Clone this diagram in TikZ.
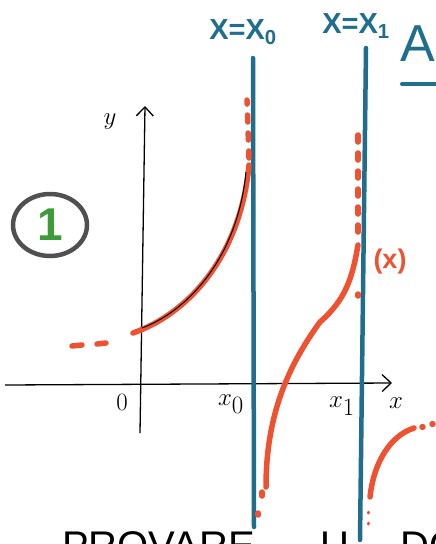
\documentclass[tikz,border=0pt]{standalone}
\usepackage{fontspec}
\setsansfont{Liberation Sans}
\usetikzlibrary{arrows.meta,shapes.geometric}
\definecolor{blu}{HTML}{1F6E8E}
\definecolor{rosso}{HTML}{EE5231}
\definecolor{verde}{HTML}{3F9A3A}
\definecolor{grigio}{HTML}{505050}

\begin{document}
\begin{tikzpicture}[x=1pt,y=-1pt,
    asse/.style={line width=1.3pt,-{Straight Barb[length=9pt,width=17pt,line width=1.3pt]}},
    asintoto/.style={blu,line width=4.5pt,line cap=round},
    grafico/.style={rosso,line width=5.5pt,line cap=round},
    tratti/.style={grafico,dash pattern=on 7pt off 11pt},
    etichetta/.style={inner sep=0pt,font=\fontsize{40}{46}\selectfont},
    blulab/.style={blu,inner sep=0pt,font=\fontsize{29}{33}\selectfont\sffamily\bfseries}]
    \useasboundingbox (0,0) rectangle (436,544);
    \clip (0,0) rectangle (436,544);

    % assi
    \coordinate (xs) at (5,385);
    \coordinate (xe) at (392,383);
    \coordinate (ys) at (140,433);
    \coordinate (ye) at (145,106);
    \draw[asse] (xs) -- (xe);
    \draw[asse] (ys) -- (ye);
    \node[etichetta] (lx) at (396,403) {$x$};
    \node[etichetta] (ly) at (110,122) {$y$};
    \node[etichetta] (lo) at (122,402) {$0$};
    \node[etichetta] (lx0) at (231,404) {$x_0$};
    \node[etichetta] (lx1) at (342,406) {$x_1$};

    % asintoti
    \draw[asintoto] (253,58) -- (254,527);
    \draw[asintoto] (366,48) -- (360,540);
    \node[blulab] (a0) at (243,32) {X=X\textsubscript{0}};
    \node[blulab] (a1) at (356,26) {X=X\textsubscript{1}};
    \node[blu,anchor=west,inner sep=0pt,font=\fontsize{52}{56}\selectfont\sffamily] (tit) at (400,44) {A};
    \draw[blu,line width=4pt,line cap=round] (402,84) -- (440,84);

    % numero
    \node[ellipse,draw=grigio,line width=4.5pt,minimum width=74pt,minimum height=62pt,
        text=verde,font=\fontsize{46}{50}\selectfont\sffamily\bfseries] (uno) at (50,225) {1};

    % primo ramo
    \draw[grafico] (72,346) -- (82,345);
    \draw[grafico] (97,344) -- (106,343);
    \draw[grafico] (133,333) .. controls (185,315) and (240,260) .. (249,165);
    \draw[black,line width=1pt] (142,328) .. controls (190,310) and (238,255) .. (246,172);
    \draw[tratti] (249,158) -- (247,100);

    % secondo ramo
    \draw[grafico] (266,487) .. controls (266,420) and (285,370) .. (320,322)
        .. controls (345,300) and (352,280) .. (358,245);
    \draw[tratti] (358,232) -- (358,135);
    \draw[grafico] (358,294) -- (358,296);
    \draw[grafico] (262,492) -- (262,496);
    \draw[grafico] (258,513) -- (258,515);
    \node[rosso,inner sep=0pt,font=\fontsize{27}{30}\selectfont\sffamily\bfseries] (ast) at (390,262) {(x)};

    % terzo ramo
    \draw[grafico] (370,497) .. controls (374,460) and (392,435) .. (414,428);
    \draw[grafico] (422,427) -- (423,427);
    \draw[grafico] (432,424) -- (433,424);
    \draw[rosso,line width=3pt,line cap=round] (368,512) -- (368,513);
    \draw[rosso,line width=3pt,line cap=round] (368,523) -- (368,524);

    % scritta in basso
    \node[anchor=base west,inner sep=0pt,font=\fontsize{40}{44}\selectfont\sffamily] (prov) at (62,559) {PROVARE};
    \node[anchor=base west,inner sep=0pt,font=\fontsize{40}{44}\selectfont\sffamily] (u) at (320,559) {U};
    \node[anchor=base west,inner sep=0pt,font=\fontsize{40}{44}\selectfont\sffamily] (do) at (400,559) {DO};
\end{tikzpicture}
\end{document}
